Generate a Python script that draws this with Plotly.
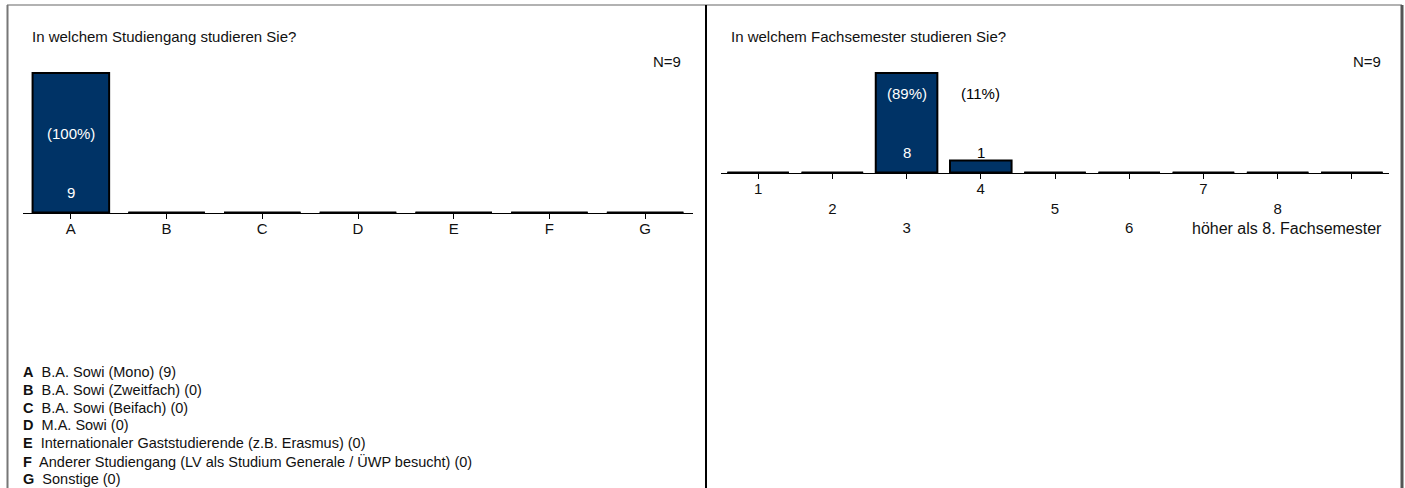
import plotly.graph_objects as go

W, H = 1405, 488

# ---------------- data ----------------
left_title = "In welchem Studiengang studieren Sie?"
left_n = "N=9"
left_cats = ["A", "B", "C", "D", "E", "F", "G"]
left_vals = [9, 0, 0, 0, 0, 0, 0]
left_pcts = ["(100%)", "", "", "", "", "", ""]
left_desc = [
    "B.A. Sowi (Mono) (9)",
    "B.A. Sowi (Zweitfach) (0)",
    "B.A. Sowi (Beifach) (0)",
    "M.A. Sowi (0)",
    "Internationaler Gaststudierende (z.B. Erasmus) (0)",
    "Anderer Studiengang (LV als Studium Generale / ÜWP besucht) (0)",
    "Sonstige (0)",
]

right_title = "In welchem Fachsemester studieren Sie?"
right_n = "N=9"
right_cats = ["1", "2", "3", "4", "5", "6", "7", "8", "höher als 8. Fachsemester"]
right_vals = [0, 0, 8, 1, 0, 0, 0, 0, 0]
right_pcts = ["", "", "(89%)", "(11%)", "", "", "", "", ""]

# ---------------- style / layout ----------------
BAR = "#003366"
FONT = "Liberation Sans, Arial, sans-serif"
TXT = "#111111"
FS = 15

def px(x):
    return x / W

def py(y):
    return 1 - y / H

panels = [
    dict(cats=left_cats, vals=left_vals, pcts=left_pcts, title=left_title, n=left_n,
         x0=23, x1=693, base=213, ppu=15.56, ymax=10, width=0.80, stagger=1,
         title_x=30, n_x=683, xa="x", ya="y"),
    dict(cats=right_cats, vals=right_vals, pcts=right_pcts, title=right_title, n=right_n,
         x0=721, x1=1389, base=173, ppu=12.5, ymax=9.5, width=0.83, stagger=3,
         title_x=729, n_x=1383, xa="x2", ya="y2"),
]

fig = go.Figure()
annotations = []
layout_axes = {}

for k, p in enumerate(panels):
    n = len(p["cats"])
    idx = list(range(n))
    top_px = p["base"] - p["ymax"] * p["ppu"]
    xname = "xaxis" if k == 0 else "xaxis2"
    yname = "yaxis" if k == 0 else "yaxis2"
    x2name = "xaxis3" if k == 0 else "xaxis4"

    fig.add_trace(go.Bar(
        x=idx, y=p["vals"], width=p["width"],
        marker=dict(color=BAR, line=dict(color="black", width=2)),
        xaxis=p["xa"], yaxis=p["ya"], showlegend=False, hoverinfo="skip",
    ))
    # zero-height bar outlines along the baseline
    sx, sy = [], []
    for i, v in zip(idx, p["vals"]):
        sx += [i - p["width"] / 2, i + p["width"] / 2, None]
        sy += [0, 0, None]
    fig.add_trace(go.Scatter(
        x=sx, y=sy, mode="lines", line=dict(color="black", width=3),
        xaxis=p["xa"], yaxis=p["ya"], showlegend=False, hoverinfo="skip",
        cliponaxis=False,
    ))

    # staggered tick labels; a label too wide for the panel end is placed separately
    ticktext = []
    for i, c in enumerate(p["cats"]):
        if len(c) > 3 and i == n - 1:
            ticktext.append("")
            rows = i % p["stagger"]
            annotations.append(dict(
                x=px(p["n_x"] + 1), y=0, xref="paper", yref=p["ya"], text=c,
                showarrow=False, xanchor="right", yanchor="middle",
                yshift=-(15 + rows * 20),
                font=dict(family=FONT, size=16, color=TXT),
            ))
        else:
            ticktext.append("<br>" * (i % p["stagger"]) + c)

    layout_axes[xname] = dict(
        domain=[px(p["x0"]), px(p["x1"])], range=[-0.5, n - 0.5],
        tickvals=idx, ticktext=ticktext, ticks="outside", ticklen=5, tickwidth=1,
        tickcolor="black", showline=True, linecolor="black", linewidth=1,
        showgrid=False, zeroline=False, fixedrange=True,
        tickfont=dict(family=FONT, size=FS, color=TXT),
        ticklabelstandoff=-3,
        anchor=p["ya"],
    )
    layout_axes[x2name] = dict(
        domain=[px(p["x0"]), px(p["x1"])], range=[-0.5, n - 0.5],
        tickvals=idx, showticklabels=False, ticks="inside", ticklen=4, tickwidth=1,
        tickcolor="black", showline=False, showgrid=False, zeroline=False,
        overlaying=p["xa"], anchor=p["ya"], fixedrange=True,
    )
    layout_axes[yname] = dict(
        domain=[py(p["base"]), py(top_px)], range=[0, p["ymax"]],
        visible=False, fixedrange=True,
    )

    # value labels
    for i, (v, pc) in enumerate(zip(p["vals"], p["pcts"])):
        if v <= 0:
            continue
        hpx = v * p["ppu"]
        annotations.append(dict(
            x=i, y=0, xref=p["xa"], yref=p["ya"], text=pc, showarrow=False,
            yshift=80, font=dict(family=FONT, size=FS,
                                 color="white" if hpx > 90 else "black"),
        ))
        annotations.append(dict(
            x=i, y=0, xref=p["xa"], yref=p["ya"], text=str(v), showarrow=False,
            yshift=21, font=dict(family=FONT, size=FS,
                                 color="white" if hpx > 30 else "black"),
        ))

    annotations.append(dict(
        x=px(p["title_x"]), y=py(37), xref="paper", yref="paper", text=p["title"],
        showarrow=False, xanchor="left", yanchor="middle",
        font=dict(family=FONT, size=FS, color=TXT),
    ))
    annotations.append(dict(
        x=px(p["n_x"]), y=py(62), xref="paper", yref="paper", text=p["n"],
        showarrow=False, xanchor="right", yanchor="middle",
        font=dict(family=FONT, size=FS, color=TXT),
    ))

# description list of left panel
for i, (c, d) in enumerate(zip(left_cats, left_desc)):
    annotations.append(dict(
        x=px(21), y=py(372 + i * 17.8), xref="paper", yref="paper",
        text="<b>" + c + "</b>  " + d, showarrow=False, xanchor="left", yanchor="middle",
        font=dict(family=FONT, size=14.5, color=TXT),
    ))

shapes = [
    dict(type="line", xref="paper", yref="paper", x0=px(7), x1=px(1402), y0=py(5), y1=py(5),
         line=dict(color="#999999", width=1.5)),
    dict(type="line", xref="paper", yref="paper", x0=px(7.5), x1=px(7.5), y0=py(5), y1=py(490),
         line=dict(color="#777777", width=2)),
    dict(type="line", xref="paper", yref="paper", x0=px(706), x1=px(706), y0=py(5), y1=py(490),
         line=dict(color="black", width=2)),
    dict(type="line", xref="paper", yref="paper", x0=px(1402), x1=px(1402), y0=py(5), y1=py(490),
         line=dict(color="#555555", width=3)),
]

fig.update_layout(
    width=W, height=H, autosize=False,
    margin=dict(l=0, r=0, t=0, b=0, pad=0),
    paper_bgcolor="white", plot_bgcolor="white",
    annotations=annotations, shapes=shapes,
    showlegend=False, bargap=0,
    **layout_axes,
)

fig.write_html("out.html", config={"displayModeBar": False, "staticPlot": True},
               post_script="document.body.style.margin='0';document.body.style.overflow='hidden';")
